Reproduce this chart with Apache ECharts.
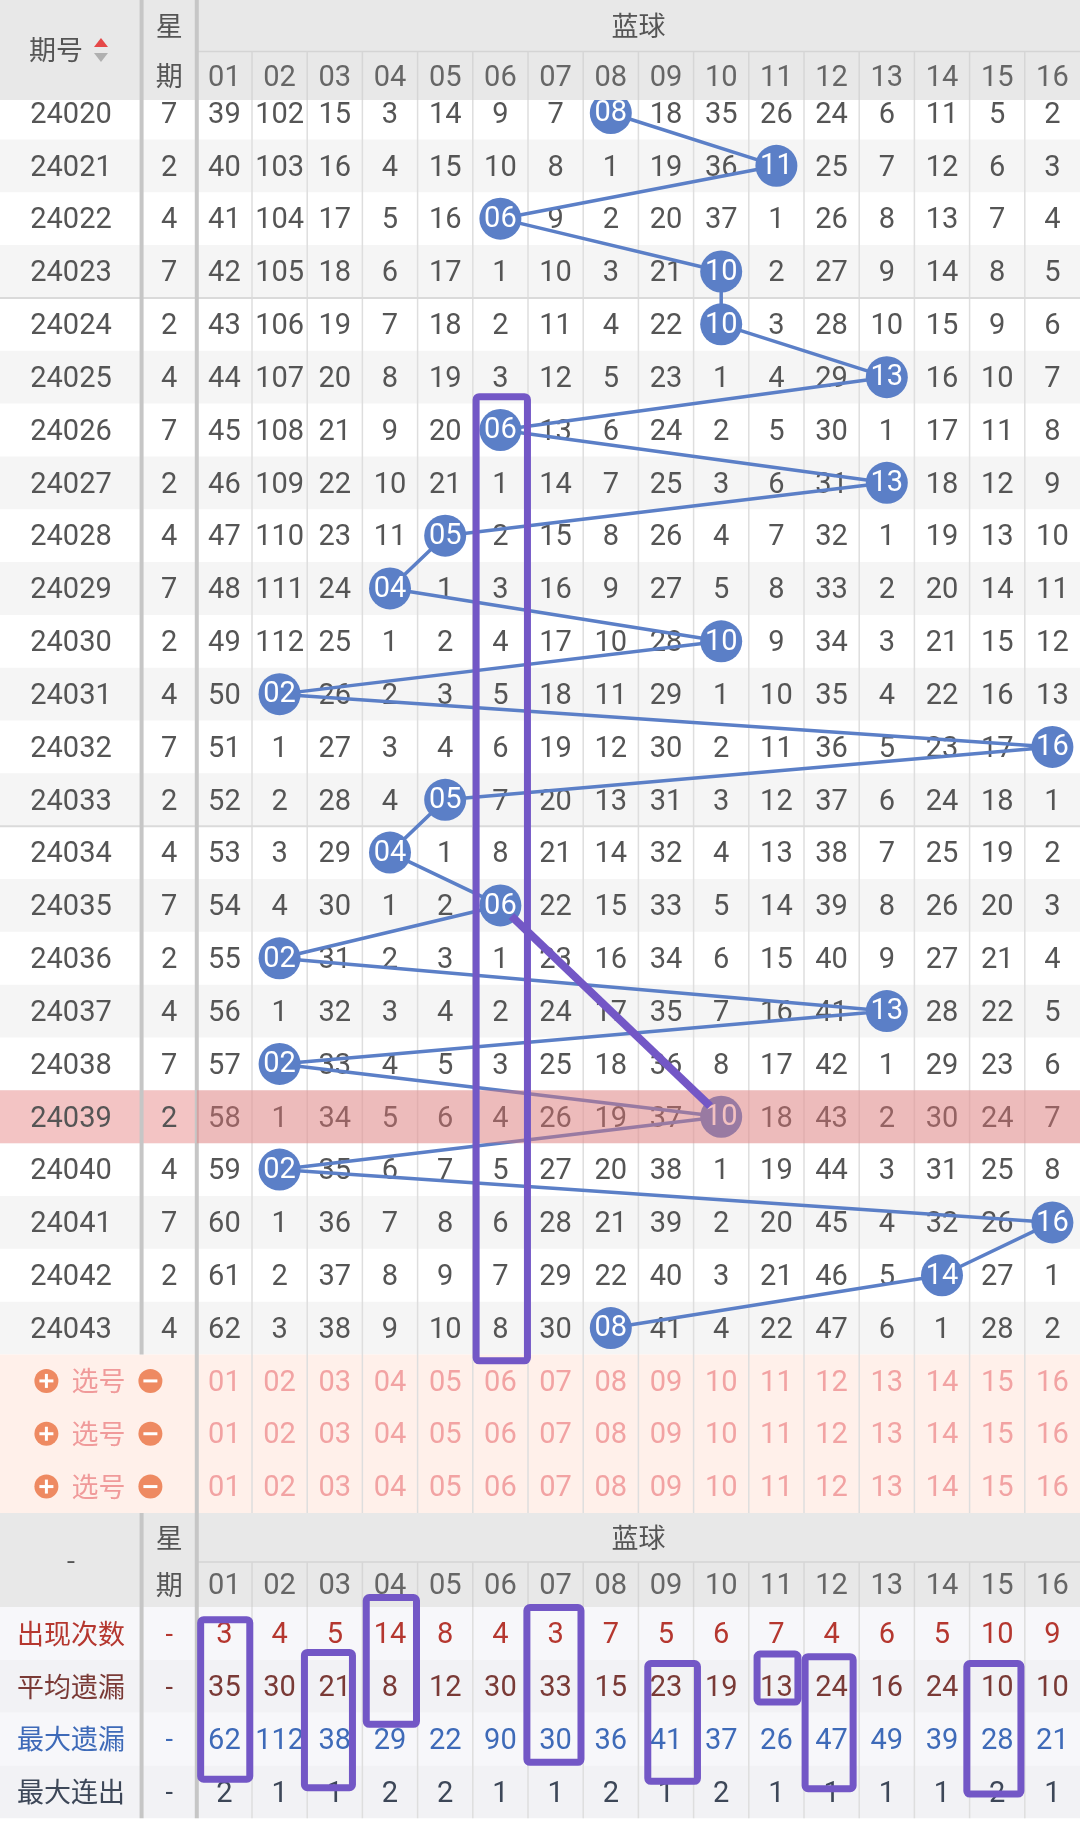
<!DOCTYPE html>
<html><head><meta charset="utf-8">
<script src="https://cdn.jsdelivr.net/npm/echarts@6/dist/echarts.min.js"></script>
<style>html,body{margin:0;padding:0;background:#fff}#c{width:1080px;height:1824px}</style>
</head><body><div id="c"></div>
<script>
// ---------------- data ----------------
const issues = ['24020','24021','24022','24023','24024','24025','24026','24027','24028','24029','24030','24031',
  '24032','24033','24034','24035','24036','24037','24038','24039','24040','24041','24042','24043'];
const weekdays = [7,2,4,7,2,4,7,2,4,7,2,4,7,2,4,7,2,4,7,2,4,7,2,4];
const ballLabels = ['01','02','03','04','05','06','07','08','09','10','11','12','13','14','15','16'];
const winners = [8,11,6,10,10,13,6,13,5,4,10,2,16,5,4,6,2,13,2,10,2,16,14,8];
// omission per issue row (0 = drawn ball, shown as a circle)
const omissions = [
  [39,102,15,3,14,9,7,0,18,35,26,24,6,11,5,2],
  [40,103,16,4,15,10,8,1,19,36,0,25,7,12,6,3],
  [41,104,17,5,16,0,9,2,20,37,1,26,8,13,7,4],
  [42,105,18,6,17,1,10,3,21,0,2,27,9,14,8,5],
  [43,106,19,7,18,2,11,4,22,0,3,28,10,15,9,6],
  [44,107,20,8,19,3,12,5,23,1,4,29,0,16,10,7],
  [45,108,21,9,20,0,13,6,24,2,5,30,1,17,11,8],
  [46,109,22,10,21,1,14,7,25,3,6,31,0,18,12,9],
  [47,110,23,11,0,2,15,8,26,4,7,32,1,19,13,10],
  [48,111,24,0,1,3,16,9,27,5,8,33,2,20,14,11],
  [49,112,25,1,2,4,17,10,28,0,9,34,3,21,15,12],
  [50,0,26,2,3,5,18,11,29,1,10,35,4,22,16,13],
  [51,1,27,3,4,6,19,12,30,2,11,36,5,23,17,0],
  [52,2,28,4,0,7,20,13,31,3,12,37,6,24,18,1],
  [53,3,29,0,1,8,21,14,32,4,13,38,7,25,19,2],
  [54,4,30,1,2,0,22,15,33,5,14,39,8,26,20,3],
  [55,0,31,2,3,1,23,16,34,6,15,40,9,27,21,4],
  [56,1,32,3,4,2,24,17,35,7,16,41,0,28,22,5],
  [57,0,33,4,5,3,25,18,36,8,17,42,1,29,23,6],
  [58,1,34,5,6,4,26,19,37,0,18,43,2,30,24,7],
  [59,0,35,6,7,5,27,20,38,1,19,44,3,31,25,8],
  [60,1,36,7,8,6,28,21,39,2,20,45,4,32,26,0],
  [61,2,37,8,9,7,29,22,40,3,21,46,5,0,27,1],
  [62,3,38,9,10,8,30,0,41,4,22,47,6,1,28,2]
];
const highlightIssue = '24039';
const statLabels = ['出现次数','平均遗漏','最大遗漏','最大连出'];
const appearCount = [3,4,5,14,8,4,3,7,5,6,7,4,6,5,10,9];
const avgMiss     = [35,30,21,8,12,30,33,15,23,19,13,24,16,24,10,10];
const maxMiss     = [62,112,38,29,22,90,30,36,41,37,26,47,49,39,28,21];
const maxStreak   = [2,1,1,2,2,1,1,2,1,2,1,1,1,1,2,1];
const pickLabel = '选号';
// hand-drawn annotation boxes [x0,x1,y0,y1] in axis units (col / row)
const annoBoxes = [
  [5.56,6.49,5.37,23.62],
  [0.57,1.46,28.52,31.54],
  [2.45,3.32,29.14,31.70],
  [3.57,4.48,28.10,30.50],
  [6.48,7.46,28.29,31.22],
  [8.67,9.57,29.35,31.58],
  [10.65,11.39,29.17,30.08],
  [11.52,12.39,29.22,31.72],
  [14.45,15.43,29.35,31.82]
];
const annoLine = [[6,15],[10,19]];

// ---------------- layout (axis units) ----------------
const X_MIN = -3.065, X_MAX = 16.5, Y_MIN = -2.139, Y_MAX = 32.387;
const ISSUE_X = -1.779, WEEK_X = 0;
const HEAD_SPLIT = -1.162, HEAD_END = -0.246;
const NROWS = issues.length;            // 24
const PICK_START = NROWS - 0.5, PICK_END = NROWS + 2.5;
const BH_SPLIT = 27.43, BH_END = 28.28;
const STAT_END = BH_END + statLabels.length;
const FN = 'Roboto, "Noto Sans", sans-serif';
const FC = '"Noto Sans CJK SC", "Noto Sans", sans-serif';
const TXT = '#555555', BLUE = '#5b7fc7', PURPLE = '#7357c6';
const statColors = ['#b5372f','#7a3a36','#3e6ab8','#3d4758'];
const DY = 2.5;

function R(api,x0,y0,x1,y1){const a=api.coord([x0,y0]),b=api.coord([x1,y1]);
  return {x:Math.min(a[0],b[0]),y:Math.min(a[1],b[1]),width:Math.abs(b[0]-a[0]),height:Math.abs(b[1]-a[1])};}
function rect(api,x0,y0,x1,y1,fill){return {type:'rect',shape:R(api,x0,y0,x1,y1),style:{fill:fill}};}
function L(api,x0,y0,x1,y1,stroke,w){const a=api.coord([x0,y0]),b=api.coord([x1,y1]);
  return {type:'line',shape:{x1:a[0],y1:a[1],x2:b[0],y2:b[1]},style:{stroke:stroke,lineWidth:w}};}
function T(api,x,y,text,fill,font,size,dx,dy){const p=api.coord([x,y]);
  return {type:'text',style:{x:p[0]+(dx||0),y:p[1]+(dy===undefined?(font===FN?DY:0):dy),text:String(text),fill:fill,fontFamily:font,fontSize:size,align:'center',verticalAlign:'middle'}};}

function custom(z, fn){
  return {type:'custom', z:z, silent:true, animation:false, clip:false, data:[[0,0]], encode:{x:0,y:1},
    renderItem:function(params,api){return {type:'group',children:fn(api)};}};
}

// backgrounds
const bgSeries = custom(1, api=>{
  const c=[rect(api,X_MIN,Y_MIN,X_MAX,Y_MAX,'#ffffff')];
  issues.forEach((iss,i)=>{
    if(i%2===1) c.push(rect(api,X_MIN,i-0.5,X_MAX,i+0.5,'#f5f5f5'));
    if(iss===highlightIssue) c.push(rect(api,X_MIN,i-0.5,0.5,i+0.5,'#f3c4c4'));
  });
  c.push(rect(api,X_MIN,PICK_START,X_MAX,PICK_END,'#fff0ea'));
  statLabels.forEach((s,r)=>c.push(rect(api,X_MIN,BH_END+r,X_MAX,BH_END+r+1,r%2?'#f2f2f5':'#f7f7fa')));
  return c;
});

// grid lines
const gridSeries = custom(2, api=>{
  const c=[];
  for(let k=1;k<16;k++) c.push(L(api,k+0.5,-0.5,k+0.5,STAT_END,'#dedede',1.5));
  [3.5,13.5].forEach(y=>c.push(L(api,X_MIN,y,X_MAX,y,'#dadada',2)));
  c.push(L(api,0.5,-0.5,0.5,STAT_END,'#c6c6c6',4));
  c.push(L(api,-0.5,-0.5,-0.5,PICK_START,'#c6c6c6',4));
  c.push(L(api,-0.5,PICK_END,-0.5,STAT_END,'#c6c6c6',4));
  return c;
});

// cell texts
const textSeries = custom(3, api=>{
  const c=[];
  issues.forEach((iss,i)=>{
    c.push(T(api,ISSUE_X,i,iss,TXT,FN,29));
    c.push(T(api,WEEK_X,i,weekdays[i],TXT,FN,29));
    omissions[i].forEach((v,k)=>{ if(k+1!==winners[i]) c.push(T(api,k+1,i,v,TXT,FN,29)); });
  });
  // pick rows
  for(let r=0;r<3;r++){
    const y=NROWS+r, p=api.coord([(X_MIN+0.5)/2,y]);
    c.push({type:'circle',shape:{cx:p[0]-52,cy:p[1],r:12},style:{fill:'#ee8a62'}});
    c.push({type:'line',shape:{x1:p[0]-59,y1:p[1],x2:p[0]-45,y2:p[1]},style:{stroke:'#fff',lineWidth:3}});
    c.push({type:'line',shape:{x1:p[0]-52,y1:p[1]-7,x2:p[0]-52,y2:p[1]+7},style:{stroke:'#fff',lineWidth:3}});
    c.push({type:'circle',shape:{cx:p[0]+52,cy:p[1],r:12},style:{fill:'#ee8a62'}});
    c.push({type:'line',shape:{x1:p[0]+45,y1:p[1],x2:p[0]+59,y2:p[1]},style:{stroke:'#fff',lineWidth:3}});
    c.push(T(api,(X_MIN+0.5)/2,y,pickLabel,'#f09a9a',FC,27));
    ballLabels.forEach((b,k)=>c.push(T(api,k+1,y,b,'#f2a3a3',FN,29)));
  }
  // stats
  const stats=[appearCount,avgMiss,maxMiss,maxStreak];
  statLabels.forEach((lab,r)=>{
    const y=BH_END+r+0.5, col=statColors[r];
    c.push(T(api,ISSUE_X,y,lab,col,FC,27));
    c.push(T(api,WEEK_X,y,'-',col,FN,27));
    stats[r].forEach((v,k)=>c.push(T(api,k+1,y,v,col,FN,29)));
  });
  return c;
});

// winners line
const winSeries = {
  type:'line', z:4, silent:true, animation:false, clip:false,
  data: winners.map((w,i)=>[w,i]),
  symbol:'circle', symbolSize:42, showSymbol:true, showAllSymbol:true,
  lineStyle:{color:BLUE,width:3.5}, itemStyle:{color:BLUE,borderWidth:0},
  label:{show:true,position:'inside',color:'#fff',fontSize:29,fontFamily:FN,offset:[0,1],
    formatter:p=>String(p.value[0]).padStart(2,'0')}
};

// highlighted issue overlay
const overlaySeries = custom(5, api=>{
  const i=issues.indexOf(highlightIssue);
  return [rect(api,0.5,i-0.5,X_MAX,i+0.5,'rgba(228,118,118,0.45)')];
});

// headers
function headerBlock(api,y0,ySplit,y1,leftText,leftDx){
  const c=[rect(api,X_MIN,y0,X_MAX,y1,'#e8e8e8')];
  c.push(L(api,0.5,ySplit,X_MAX,ySplit,'#d4d4d4',1.5));
  for(let k=1;k<16;k++) c.push(L(api,k+0.5,ySplit,k+0.5,y1,'#d6d6d6',1.5));
  c.push(L(api,-0.5,y0,-0.5,y1,'#c6c6c6',4));
  c.push(L(api,0.5,y0,0.5,y1,'#c6c6c6',4));
  c.push(T(api,ISSUE_X,(y0+y1)/2,leftText,'#555',FC,27,leftDx,0));
  c.push(T(api,WEEK_X,(y0+ySplit)/2,'星','#555',FC,27));
  c.push(T(api,WEEK_X,(ySplit+y1)/2,'期','#555',FC,27));
  c.push(T(api,8.5,(y0+ySplit)/2,'蓝球','#555',FC,27));
  ballLabels.forEach((b,k)=>c.push(T(api,k+1,(ySplit+y1)/2,b,'#666',FN,29)));
  return c;
}
const headerSeries = custom(6, api=>{
  const c=headerBlock(api,Y_MIN,HEAD_SPLIT,HEAD_END,'期号',-15);
  const p=api.coord([ISSUE_X,(Y_MIN+HEAD_END)/2]);
  const ax=p[0]+30, ay=p[1];
  c.push({type:'polygon',shape:{points:[[ax-7,ay-3],[ax+7,ay-3],[ax,ay-12]]},style:{fill:'#e54848'}});
  c.push({type:'polygon',shape:{points:[[ax-7,ay+3],[ax+7,ay+3],[ax,ay+12]]},style:{fill:'#b0b0b0'}});
  return c.concat(headerBlock(api,PICK_END,BH_SPLIT,BH_END,'-',0));
});

// annotations
const annoSeries = custom(7, api=>{
  const c=annoBoxes.map(b=>({type:'rect',shape:Object.assign(R(api,b[0],b[2],b[1],b[3]),{r:3}),
    style:{fill:'none',stroke:PURPLE,lineWidth:7}}));
  const a=api.coord(annoLine[0]), b=api.coord(annoLine[1]);
  const t0=0.05,t1=0.95;
  c.push({type:'line',shape:{x1:a[0]+(b[0]-a[0])*t0,y1:a[1]+(b[1]-a[1])*t0,x2:a[0]+(b[0]-a[0])*t1,y2:a[1]+(b[1]-a[1])*t1},
    style:{stroke:PURPLE,lineWidth:8}});
  return c;
});

const chart = echarts.init(document.getElementById('c'), null, {renderer:'canvas'});
chart.setOption({
  animation:false,
  grid:{left:0,right:0,top:0,bottom:0},
  xAxis:{type:'value',min:X_MIN,max:X_MAX,show:false},
  yAxis:{type:'value',min:Y_MIN,max:Y_MAX,inverse:true,show:false},
  series:[bgSeries,gridSeries,textSeries,winSeries,overlaySeries,headerSeries,annoSeries]
});
</script></body></html>
